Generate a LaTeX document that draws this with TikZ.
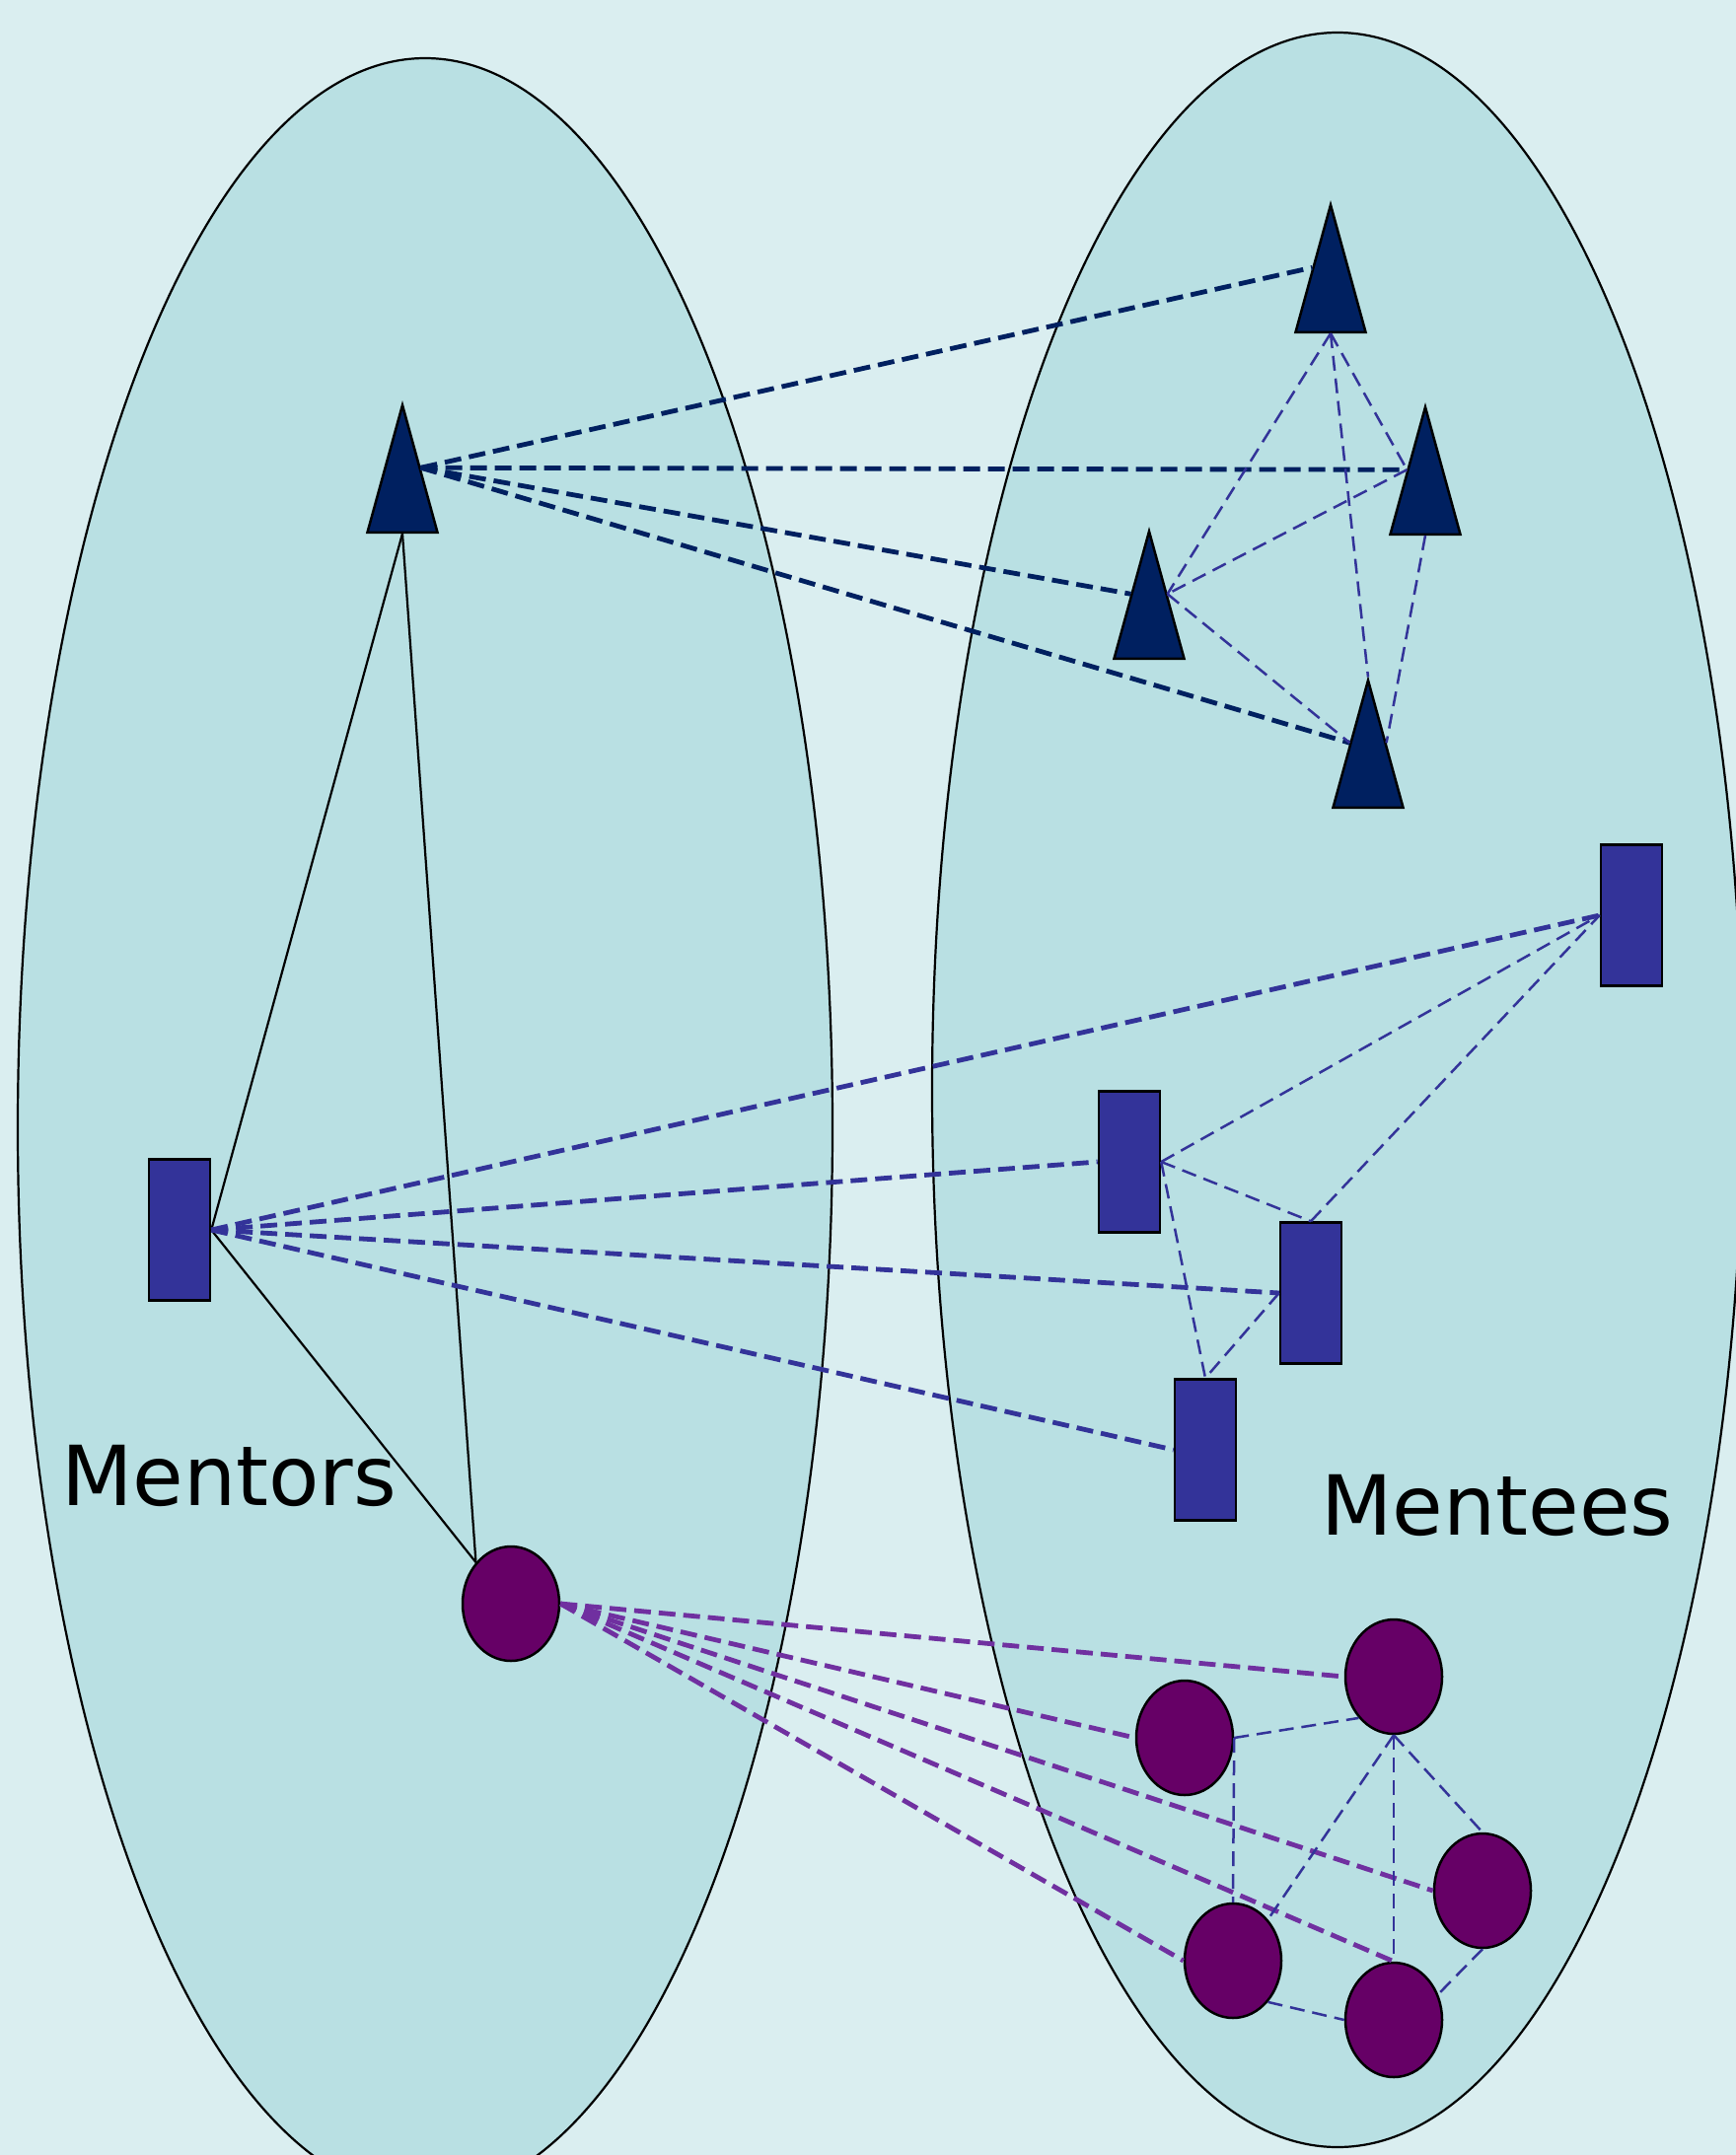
\documentclass[tikz,border=0pt]{standalone}
\usepackage{fontspec}
\setmainfont{DejaVu Sans}
\usetikzlibrary{shapes.geometric}
\definecolor{bgcol}{RGB}{218,238,240}
\definecolor{groupfill}{RGB}{185,224,227}
\definecolor{navy}{RGB}{0,32,96}
\definecolor{rectblue}{RGB}{51,51,153}
\definecolor{plum}{RGB}{102,0,102}
\definecolor{violet}{RGB}{112,48,160}

\begin{document}
\begin{tikzpicture}[x=1pt, y=-1pt,
	group/.style={draw=black, line width=2.2pt, fill=groupfill},
	tri/.style={draw=black, line width=2.5pt, fill=navy, isosceles triangle, isosceles triangle stretches, shape border rotate=90, minimum width=71pt, minimum height=129pt, inner sep=0pt, anchor=lower side},
	rect/.style={draw=black, line width=2.5pt, fill=rectblue, rectangle, minimum width=62pt, minimum height=143pt, inner sep=0pt},
	dot/.style={draw=black, line width=2.5pt, fill=plum, ellipse, minimum width=98pt, minimum height=116pt, inner sep=0pt},
	tag/.style={font=\fontsize{84}{100}\selectfont, inner sep=0pt, anchor=base west},
	tie/.style={draw=black, line width=2.2pt},
	far/.style={line width=4.8pt, dash pattern=on 17pt off 8pt},
	near/.style={draw=rectblue, line width=2.5pt, dash pattern=on 15pt off 8pt}]
				\useasboundingbox (0, 0) rectangle (1760, 2185);
				\clip (0, 0) rectangle (1760, 2185);
				\fill[bgcol] (0, 0) rectangle (1760, 2185);
				\draw[group] (431, 1143) ellipse [x radius=413pt, y radius=1084pt];
				\draw[group] (1356, 1105) ellipse [x radius=411pt, y radius=1072pt];

				\node[tag] (mentors)at(62, 1526) {Mentors};
				\node[tag] (mentees)at(1339, 1556) {Mentees};

				\node[tri] (M1)at(408, 541) {};
				\node[tri] (T1)at(1349, 338) {};
				\node[tri] (T2)at(1445, 543) {};
				\node[tri] (T3)at(1165, 669) {};
				\node[tri] (T4)at(1387, 820) {};

				\node[rect] (MR)at(182, 1247) {};
				\node[rect] (R1)at(1654, 928) {};
				\node[rect] (R2)at(1145, 1178) {};
				\node[rect] (R3)at(1329, 1311) {};
				\node[rect] (R4)at(1222, 1470) {};

				\node[dot] (MC)at(518, 1626) {};
				\node[dot] (C1)at(1413, 1700) {};
				\node[dot] (C2)at(1201, 1762) {};
				\node[dot] (C3)at(1503, 1917) {};
				\node[dot] (C4)at(1250, 1988) {};
				\node[dot] (C5)at(1413, 2048) {};

				\draw[tie] (M1.lower side) -- (MR.east);
				\draw[tie] (M1.lower side) -- (MC.north west);
				\draw[tie] (MR.east) -- (MC.north west);

				\foreach \t in {T1, T2, T3, T4}
					\draw[far, draw=navy] (M1.right side) -- (\t.left side);
				\foreach \r in {R1, R2, R3, R4}
					\draw[far, draw=rectblue] (MR.east) -- (\r.west);
				\foreach \c in {C1, C2, C3, C4}
					\draw[far, draw=violet] (MC.east) -- (\c.west);
				\draw[far, draw=violet] (MC.east) -- (C5.north);

				\draw[near] (T1.lower side) -- (T3.right side);
				\draw[near] (T1.lower side) -- (T2.left side);
				\draw[near] (T1.lower side) -- (T4.apex);
				\draw[near] (T2.left side) -- (T3.right side);
				\draw[near] (T2.lower side) -- (T4.right side);
				\draw[near] (T3.right side) -- (T4.left side);

				\draw[near] (R2.east) -- (R1.west);
				\draw[near] (R3.north) -- (R1.west);
				\draw[near] (R2.east) -- (R3.north);
				\draw[near] (R2.east) -- (R4.north);
				\draw[near] (R3.west) -- (R4.north);

				\draw[near] (C2.east) -- (C1.south west);
				\draw[near] (C2.east) -- (C4.north);
				\draw[near] (C1.south) -- (C4.north east);
				\draw[near] (C1.south) -- (C5.north);
				\draw[near] (C1.south) -- (C3.north);
				\draw[near] (C3.south) -- (C5.30);
				\draw[near] (C4.south east) -- (C5.west);
			\end{tikzpicture}
\end{document}
